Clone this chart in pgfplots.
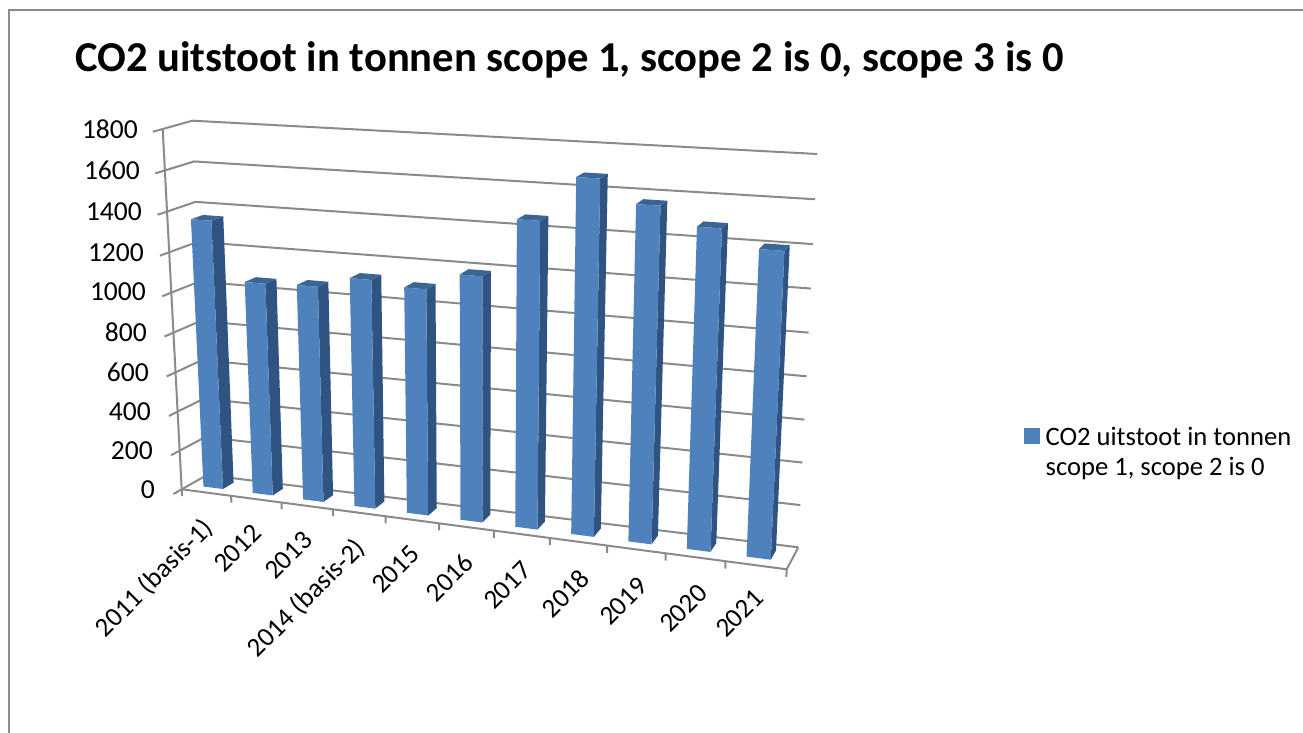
\documentclass[border=0pt]{standalone}
\usepackage{pgfplots}
\pgfplotsset{compat=1.18}
\usepackage{fontspec}
\setmainfont{Carlito}
\definecolor{barfront}{HTML}{4F81BD}
\definecolor{barside}{HTML}{2F5482}
\definecolor{bartop}{HTML}{3A6595}
\definecolor{gridc}{HTML}{8A8A8A}
\newcommand\Faces[2]{%
  \addplot[fill=barside,draw=none,forget plot] table[row sep=\\,x expr={PX(#1+\thisrow{u},\thisrow{d},#2*\thisrow{h})},y expr={PY(#1+\thisrow{u},\thisrow{d},#2*\thisrow{h})}]
    {u d h\\ 0.68 0.32 0\\ 0.68 0.75 0\\ 0.68 0.75 1\\ 0.68 0.32 1\\} -- cycle;
  \addplot[fill=bartop,draw=none,forget plot] table[row sep=\\,x expr={PX(#1+\thisrow{u},\thisrow{d},#2*\thisrow{h})},y expr={PY(#1+\thisrow{u},\thisrow{d},#2*\thisrow{h})}]
    {u d h\\ 0.28 0.32 1\\ 0.68 0.32 1\\ 0.68 0.75 1\\ 0.28 0.75 1\\} -- cycle;
  \addplot[fill=barfront,draw=none,forget plot] table[row sep=\\,x expr={PX(#1+\thisrow{u},\thisrow{d},#2*\thisrow{h})},y expr={PY(#1+\thisrow{u},\thisrow{d},#2*\thisrow{h})}]
    {u d h\\ 0.28 0.32 0\\ 0.68 0.32 0\\ 0.68 0.32 1\\ 0.28 0.32 1\\} -- cycle;
}
\newcommand\GridLevel[1]{%
  \addplot[gridc,line width=2pt,forget plot] table[row sep=\\,x expr={PX(\thisrow{u},\thisrow{d},#1)},y expr={PY(\thisrow{u},\thisrow{d},#1)}]
    {u d\\ 0 -0.33\\ 0 0\\ 0 1\\ 11 1\\};
}
\newcommand\XTick[1]{%
  \addplot[gridc,line width=2pt,forget plot] table[row sep=\\,x expr={PX(#1,0,\thisrow{v})},y expr={PY(#1,0,\thisrow{v})}]
    {v\\ 0\\ -35\\};
}
\begin{document}
\begin{tikzpicture}
\path[use as bounding box] (0,0) rectangle (1303pt,733pt);
\begin{axis}[
  at={(0,0)}, anchor=south west,
  scale only axis, width=1303pt, height=733pt,
  xmin=0, xmax=1303, ymin=0, ymax=733, y dir=reverse,
  hide axis,
  declare function={
    wa(\ta)=\ta/(\ta+(1-\ta)*1.125);
    wv(\tb)=\tb/(\tb+(1-\tb)*1.04);
    bl(\ta,\tb,\tc,\td,\te,\tf)=(1-\tb)*((1-\ta)*\tc+\ta*\te)+\tb*((1-\ta)*\td+\ta*\tf);
    PX(\pu,\pd,\pv)=(1-wv(\pv/1800))*bl(wa(\pu/11),\pd,181.7,207,786.7,798.3)+wv(\pv/1800)*bl(wa(\pu/11),\pd,162.7,192.3,805.3,817.3);
    PY(\pu,\pd,\pv)=(1-wv(\pv/1800))*bl(wa(\pu/11),\pd,489.3,475,569.3,547.3)+wv(\pv/1800)*bl(wa(\pu/11),\pd,129,120.7,165,154);
  },
  legend style={at={(axis cs:1024,425)},anchor=north west,draw=none,fill=none,
    font=\fontsize{26.6}{30}\selectfont,inner sep=0pt,row sep=0pt,
    /tikz/every even column/.append style={column sep=10pt}},
  legend cell align=left,
  legend image code/.code={\fill[barfront] (0pt,9pt) rectangle (15pt,24pt);\path (19pt,0pt);},
]
% chart frame
\addplot[color=gridc,line width=2pt,forget plot] coordinates {(9,733) (9,10.5) (1303,10.5)};
% walls and floor
\GridLevel{0}\GridLevel{200}\GridLevel{400}\GridLevel{600}\GridLevel{800}
\GridLevel{1000}\GridLevel{1200}\GridLevel{1400}\GridLevel{1600}\GridLevel{1800}
\addplot[gridc,line width=2pt,forget plot] table[row sep=\\,x expr={PX(\thisrow{u},\thisrow{d},\thisrow{v})},y expr={PY(\thisrow{u},\thisrow{d},\thisrow{v})}]
  {u d v\\ 0 0 1800\\ 0 0 0\\ 11 0 0\\ 11 1 0\\};
\XTick{0}\XTick{1}\XTick{2}\XTick{3}\XTick{4}\XTick{5}\XTick{6}\XTick{7}\XTick{8}\XTick{9}\XTick{10}\XTick{11}
% bars
\Faces{0}{1352}
\Faces{1}{1063}
\Faces{2}{1070}
\Faces{3}{1125}
\Faces{4}{1102}
\Faces{5}{1185}
\Faces{6}{1462}
\Faces{7}{1672}
\Faces{8}{1567}
\Faces{9}{1484}
\Faces{10}{1404}
% legend
\addlegendimage{barfront}
\addlegendentry[align=left]{CO2 uitstoot in tonnen\\scope 1, scope 2 is 0}
% title
\node[anchor=base west,inner sep=0pt,font=\fontsize{42.6}{42}\selectfont\bfseries] at (axis cs:75,72) {CO2 uitstoot in tonnen scope 1, scope 2 is 0, scope 3 is 0};
% value axis labels
\foreach \lab/\xx/\yy in {0/155/490,200/153/451,400/151/412,600/149/372,800/147/332,1000/146/292,1200/144/253,1400/142/212,1600/140/170,1800/138/129}{
  \edef\tmp{\noexpand\node[anchor=east,inner sep=0pt,font=\noexpand\fontsize{27.5}{27}\noexpand\selectfont] at (axis cs:\xx,\yy) {\lab};}\tmp
}
% category labels
\foreach \lab/\xx/\yy in {2011 (basis-1)/209/524,2012/257/529,2013/308/536,2014 (basis-2)/361/544,2015/415/550,2016/469/558,2017/527/566,2018/585/574,2019/643/582,2020/703/589,2021/759/594}{
  \edef\tmp{\noexpand\node[anchor=east,rotate=45,inner sep=0pt,font=\noexpand\fontsize{27}{27}\noexpand\selectfont] at (axis cs:\xx,\yy) {\lab};}\tmp
}
\end{axis}
\end{tikzpicture}
\end{document}
